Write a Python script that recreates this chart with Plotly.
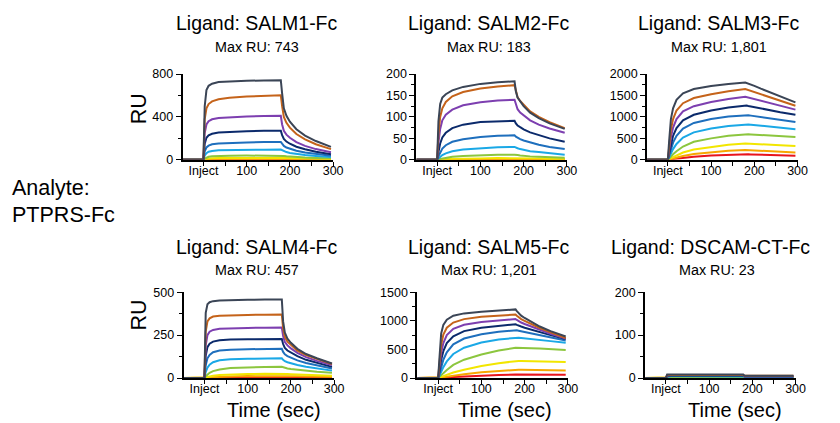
import plotly.graph_objects as go

W, H = 840, 423

# ---------------- data ----------------
TIME = [-48, 0, 3, 7, 12, 20, 35, 60, 100, 140, 179, 182, 186, 192, 200, 215, 235, 260, 295]

# curve order: lowest concentration (red) -> highest (slate)
COLORS = ["#e8141c", "#f7a600", "#f2e600", "#8cc63e", "#1aa8e6",
          "#1e6fbd", "#0b2a6b", "#7d3fb0", "#c5631a", "#3b4556"]

SALM1_RU = [
    [0, 0, 0.5, 1, 1, 1.5, 2, 2, 2, 2, 2, 2, 2, 2, 2, 2, 1, 1, 1],
    [0, 0, 1, 2, 3, 4, 5, 5, 6, 6, 6, 6, 5, 5, 5, 4, 4, 3, 3],
    [0, 0, 5, 10, 13, 15, 17, 18, 18, 19, 19, 18, 17, 16, 15, 13, 11, 9, 7],
    [0, 0, 12, 22, 28, 33, 37, 39, 40, 41, 41, 39, 36, 33, 30, 26, 22, 18, 14],
    [0, 0, 40, 62, 75, 83, 88, 91, 93, 94, 95, 88, 80, 72, 64, 54, 44, 35, 25],
    [0, 0, 80, 115, 132, 145, 153, 158, 162, 165, 166, 150, 130, 115, 102, 85, 68, 53, 37],
    [0, 0, 150, 205, 228, 243, 255, 262, 267, 270, 272, 230, 195, 170, 150, 122, 98, 76, 52],
    [0, 0, 250, 330, 360, 378, 390, 398, 405, 408, 410, 330, 270, 235, 205, 165, 130, 100, 70],
    [0, 0, 380, 480, 520, 545, 565, 578, 590, 597, 602, 500, 400, 345, 300, 240, 190, 145, 100],
    [0, 0, 500, 650, 690, 710, 725, 732, 737, 740, 742, 620, 480, 410, 355, 285, 225, 175, 120],
]

SALM2_RU = [
    [0, 0, 0, 0.3, 0.5, 0.5, 0.7, 0.8, 1, 1, 1, 1, 1, 1, 1, 1, 0.8, 0.7, 0.6],
    [0, 0, 0, 0.5, 1, 1, 1, 1.5, 2, 2, 2, 2, 2, 2, 2, 1, 1, 1, 1],
    [0, 0, 0.5, 1, 1, 2, 2, 3, 3, 4, 4, 4, 3, 3, 3, 3, 3, 2, 2],
    [0, 0, 1, 2, 3, 5, 7, 9, 11, 12, 12, 11, 11, 10, 9, 8, 7, 6, 5],
    [0, 0, 3, 7, 11, 15, 20, 24, 27, 29, 30, 28, 27, 25, 23, 20, 18, 15, 12],
    [0, 0, 8, 18, 26, 34, 42, 48, 53, 56, 57, 54, 51, 48, 45, 40, 35, 30, 25],
    [0, 0, 18, 38, 52, 63, 74, 82, 88, 90, 91, 85, 80, 76, 71, 64, 57, 50, 42],
    [0, 0, 40, 72, 92, 105, 117, 127, 134, 138, 140, 128, 118, 110, 103, 92, 82, 73, 63],
    [0, 0, 60, 100, 120, 135, 148, 158, 166, 171, 174, 158, 146, 137, 128, 113, 100, 88, 74],
    [0, 0, 90, 130, 145, 153, 162, 170, 177, 181, 183, 160, 145, 135, 125, 110, 97, 85, 72],
]

SALM3_RU = [
    [0, 0, 4, 10, 18, 28, 48, 72, 100, 120, 130, 129, 128, 126, 124, 118, 112, 104, 92],
    [0, 0, 8, 20, 35, 55, 90, 135, 180, 210, 230, 228, 225, 222, 218, 210, 200, 188, 170],
    [0, 0, 15, 40, 65, 105, 170, 240, 300, 350, 380, 378, 376, 373, 370, 362, 352, 340, 320],
    [0, 0, 30, 80, 130, 200, 310, 420, 500, 560, 600, 598, 596, 592, 588, 578, 565, 550, 530],
    [0, 0, 60, 150, 250, 370, 520, 640, 730, 790, 830, 828, 824, 818, 810, 795, 775, 750, 715],
    [0, 0, 100, 250, 400, 560, 730, 860, 950, 1010, 1050, 1047, 1040, 1030, 1018, 995, 965, 930, 880],
    [0, 0, 150, 370, 560, 740, 920, 1050, 1150, 1220, 1270, 1265, 1255, 1242, 1225, 1195, 1155, 1110, 1050],
    [0, 0, 220, 520, 750, 950, 1130, 1250, 1350, 1420, 1470, 1462, 1450, 1432, 1410, 1370, 1315, 1250, 1170],
    [0, 0, 300, 700, 950, 1150, 1320, 1440, 1530, 1600, 1650, 1640, 1625, 1605, 1580, 1530, 1460, 1380, 1260],
    [0, 0, 450, 950, 1200, 1400, 1550, 1650, 1720, 1770, 1800, 1790, 1775, 1755, 1725, 1660, 1580, 1480, 1340],
]

SALM4_RU = [
    [0, 0, 0.5, 1, 1, 2, 2, 3, 3, 4, 4, 4, 4, 4, 3, 3, 3, 2, 2],
    [0, 0, 1, 2, 3, 5, 7, 9, 11, 12, 12, 12, 12, 11, 11, 10, 9, 8, 7],
    [0, 0, 3, 6, 9, 13, 17, 21, 23, 25, 26, 25, 24, 23, 22, 20, 18, 16, 13],
    [0, 0, 10, 20, 30, 40, 50, 58, 62, 64, 65, 62, 59, 56, 53, 48, 43, 37, 30],
    [0, 0, 35, 60, 78, 92, 103, 109, 112, 114, 115, 106, 98, 92, 86, 76, 66, 56, 43],
    [0, 0, 75, 115, 135, 150, 160, 165, 168, 169, 170, 152, 138, 128, 118, 103, 88, 73, 55],
    [0, 0, 130, 180, 200, 212, 220, 224, 226, 227, 228, 198, 175, 160, 148, 127, 106, 88, 65],
    [0, 0, 190, 250, 270, 280, 287, 290, 292, 293, 294, 245, 210, 190, 173, 147, 122, 100, 75],
    [0, 0, 270, 330, 348, 358, 363, 366, 368, 369, 370, 290, 240, 212, 192, 160, 133, 110, 82],
    [0, 0, 380, 430, 442, 448, 452, 455, 456, 457, 457, 330, 265, 230, 205, 170, 140, 115, 85],
]

SALM5_RU = [
    [0, 0, 1, 3, 6, 10, 17, 27, 40, 52, 60, 60, 60, 59, 59, 58, 57, 56, 55],
    [0, 0, 3, 8, 15, 25, 42, 65, 100, 125, 145, 145, 144, 143, 142, 140, 138, 135, 132],
    [0, 0, 8, 20, 35, 55, 95, 145, 210, 260, 300, 300, 299, 298, 297, 295, 292, 288, 282],
    [0, 0, 20, 50, 90, 140, 230, 320, 410, 480, 530, 530, 528, 526, 524, 520, 514, 505, 490],
    [0, 0, 40, 110, 190, 290, 420, 530, 620, 675, 710, 708, 705, 700, 695, 680, 665, 645, 615],
    [0, 0, 70, 200, 320, 450, 590, 690, 765, 810, 840, 835, 828, 818, 805, 780, 745, 710, 655],
    [0, 0, 120, 320, 470, 610, 730, 820, 880, 915, 940, 930, 915, 900, 880, 845, 800, 750, 680],
    [0, 0, 180, 440, 610, 750, 860, 930, 980, 1010, 1030, 1015, 995, 970, 945, 900, 840, 775, 690],
    [0, 0, 250, 580, 760, 880, 970, 1030, 1070, 1095, 1110, 1090, 1060, 1030, 1000, 945, 875, 800, 700],
    [0, 0, 350, 780, 930, 1020, 1090, 1130, 1160, 1185, 1200, 1170, 1130, 1090, 1050, 980, 900, 820, 725],
]

DSCAM_RU = [
    [0, 0, 1, 1, 1, 1, 1, 1, 1, 1, 1, 1, 1, 1, 1, 1, 1, 1, 1],
    [0, 0, 1, 2, 2, 2, 2, 2, 2, 2, 2, 1, 1, 1, 1, 1, 1, 1, 1],
    [0, 0, 1, 2, 2, 2, 2, 2, 2, 2, 2, 2, 2, 2, 2, 2, 2, 2, 2],
    [0, 0, 2, 3, 3, 3, 3, 3, 3, 3, 3, 2, 2, 2, 2, 2, 2, 2, 2],
    [0, 0, 3, 4, 4, 4, 4, 4, 4, 4, 4, 3, 3, 3, 3, 3, 3, 3, 3],
    [0, 0, 4, 5, 5, 5, 5, 5, 5, 5, 5, 3, 3, 3, 3, 3, 3, 3, 3],
    [0, 0, 5, 6, 6, 6, 6, 6, 6, 6, 6, 4, 4, 4, 4, 4, 4, 4, 4],
    [0, 0, 6, 7, 7, 7, 7, 7, 7, 7, 7, 4, 4, 4, 4, 4, 4, 4, 4],
    [0, 0, 7, 7, 7, 7, 7, 7, 7, 7, 7, 5, 5, 5, 5, 5, 5, 5, 5],
    [0, 0, 8, 8, 8, 8, 8, 8, 8, 8, 8, 5, 5, 5, 5, 5, 5, 5, 5],
]

LIGANDS = ["SALM1-Fc", "SALM2-Fc", "SALM3-Fc", "SALM4-Fc", "SALM5-Fc", "DSCAM-CT-Fc"]
MAX_RU = ["743", "183", "1,801", "457", "1,201", "23"]
PANELS = [SALM1_RU, SALM2_RU, SALM3_RU, SALM4_RU, SALM5_RU, DSCAM_RU]
Y_MAX = [800, 200, 2000, 500, 1500, 200]
Y_DTICK = [400, 50, 500, 250, 500, 100]
X_TICKVALS = [0, 50, 100, 150, 200, 250, 300]
X_TICKTEXT = ["Inject", "", "100", "", "200", "", "300"]

# ---------------- layout geometry (target picture pixels) ----------------
X_DOM = [(184, 334), (417, 567), (647, 797), (185, 335), (418, 568), (645, 795)]
Y_DOM_TOP = (73.3, 159)
Y_DOM_BOT = (291.3, 377)
TITLE_X = [258, 489, 719, 258, 489, 710]
MAXRU_X = [258, 489, 719, 258, 489, 717]
TIME_X = [275, 505, 735]

FONT = "Liberation Sans, Arial, sans-serif"
FS = 1.025  # font compensation
BODY = 8    # default page margin around the figure

# observed picture <- page mapping: pic_x = 0.985*page_x + 2 ; pic_y = 0.966*page_y + 6.6


def px(v):
    return ((v - 2) / 0.985 - BODY) / W


def py(v):
    return 1 - ((v - 6.6) / 0.966 - BODY) / H


fig = go.Figure()
layout = dict(
    width=W, height=H, margin=dict(l=0, r=0, t=0, b=0), autosize=False,
    paper_bgcolor="white", plot_bgcolor="white",
    showlegend=False, font=dict(family=FONT, color="black"),
)

annotations = []
for i, (series, ymax, ydt) in enumerate(zip(PANELS, Y_MAX, Y_DTICK)):
    n = "" if i == 0 else str(i + 1)
    xa, ya = "x" + n, "y" + n
    for ci, ys in enumerate(series):
        fig.add_trace(go.Scatter(
            x=TIME, y=ys, mode="lines", xaxis=xa, yaxis=ya,
            line=dict(color=COLORS[ci], width=2), hoverinfo="skip"))
    x0, x1 = X_DOM[i]
    yd = Y_DOM_TOP if i < 3 else Y_DOM_BOT
    layout["xaxis" + n] = dict(
        domain=[px(x0), px(x1)], anchor=ya, range=[-48, 300],
        showline=True, linecolor="black", linewidth=1.5,
        ticks="outside", ticklen=4, tickwidth=1, tickcolor="black",
        tickvals=X_TICKVALS, ticktext=X_TICKTEXT, ticklabelstandoff=-6,
        tickfont=dict(size=12.5, family=FONT), showgrid=False, zeroline=False,
    )
    layout["yaxis" + n] = dict(
        domain=[py(yd[1]), py(yd[0])], anchor=xa, range=[0, ymax],
        showline=True, linecolor="black", linewidth=2,
        ticks="outside", ticklen=5, tickwidth=1, tickcolor="black",
        dtick=ydt, tick0=0, tickfont=dict(size=12.5, family=FONT),
        minor=dict(dtick=ydt / 2, ticks="outside", ticklen=3, tickcolor="black"),
        showgrid=False, zeroline=False,
    )
    ty = 22 if i < 3 else 246
    my = 46 if i < 3 else 269
    annotations.append(dict(x=px(TITLE_X[i]), y=py(ty), xref="paper", yref="paper",
                            text="Ligand: " + LIGANDS[i], showarrow=False,
                            font=dict(size=19 * FS, family=FONT), xanchor="center", yanchor="middle"))
    annotations.append(dict(x=px(MAXRU_X[i]), y=py(my), xref="paper", yref="paper",
                            text="Max RU: " + MAX_RU[i], showarrow=False,
                            font=dict(size=14 * FS, family=FONT), xanchor="center", yanchor="middle"))
    if i >= 3:
        annotations.append(dict(x=px(TIME_X[i - 3]), y=py(409), xref="paper", yref="paper",
                                text="Time (sec)", showarrow=False,
                                font=dict(size=19.5 * FS, family=FONT), xanchor="center", yanchor="middle"))

for ry in (108, 314):
    annotations.append(dict(x=px(140), y=py(ry), xref="paper", yref="paper",
                            text="RU", textangle=-90, showarrow=False,
                            font=dict(size=21 * FS, family=FONT), xanchor="center", yanchor="middle"))

annotations.append(dict(x=px(12), y=py(187), xref="paper", yref="paper",
                        text="Analyte:", showarrow=False, align="left",
                        font=dict(size=21 * FS, family=FONT), xanchor="left", yanchor="middle"))
annotations.append(dict(x=px(12), y=py(214), xref="paper", yref="paper",
                        text="PTPRS-Fc", showarrow=False, align="left",
                        font=dict(size=21 * FS, family=FONT), xanchor="left", yanchor="middle"))

layout["annotations"] = annotations
fig.update_layout(**layout)
fig.write_html("out.html", config={"displayModeBar": False})
